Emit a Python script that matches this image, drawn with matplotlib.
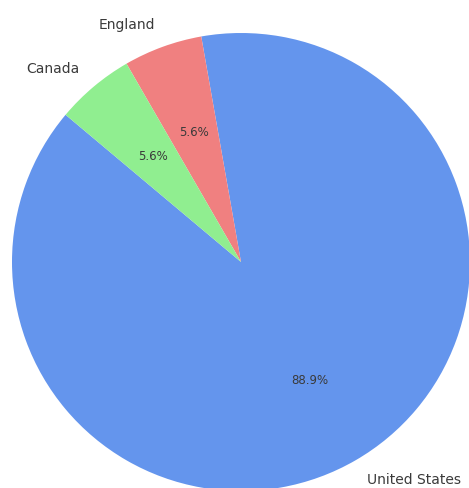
import matplotlib
matplotlib.use("Agg")
from matplotlib import pyplot as plt

countries = ["United States", "England", "Canada"]
counts = [16, 1, 1]
colors = ["cornflowerblue", "lightcoral", "lightgreen"]

fig = plt.figure(figsize=(4.69, 4.88), dpi=100)
ax = fig.add_axes([0, 0, 1, 1])

wedges, texts, autotexts = ax.pie(
    counts,
    labels=countries,
    colors=colors,
    autopct="%1.1f%%",
    startangle=140,
    textprops={"color": "#3a3a3a", "fontsize": 10},
)
for t in autotexts:
    t.set_fontsize(8.5)

# pie is cropped a bit on the right and bottom, like the original
r = 229.0
ax.set_xlim(-241 / r, -241 / r + 469 / r)
ax.set_ylim(-226 / r, -226 / r + 488 / r)
ax.set_aspect("equal")
ax.axis("off")

plt.savefig("out.png", dpi=100)
